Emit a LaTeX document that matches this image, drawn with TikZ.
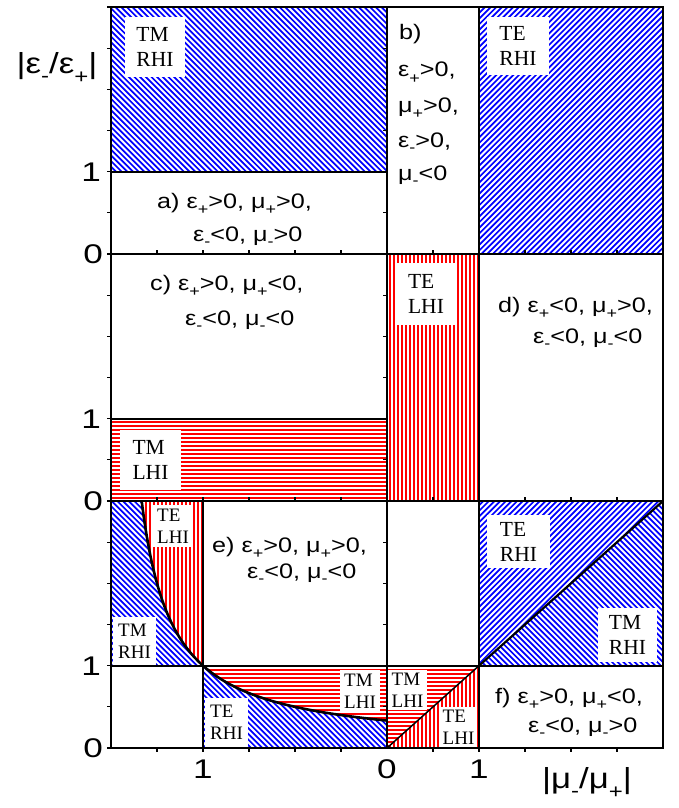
\documentclass[tikz,border=0pt]{standalone}
\usepackage{fontspec}
\setmainfont{Liberation Sans}
\newfontfamily\seriffont{Liberation Serif}
\newcommand\Sp{\raisebox{-0.32em}{\fontsize{15}{15}\selectfont +}}
\newcommand\Sm{\raisebox{-0.25em}{\fontsize{15}{15}\selectfont -}}
\newcommand\EPp{ε\Sp}
\newcommand\EPm{ε\Sm}
\newcommand\MUp{μ\Sp}
\newcommand\MUm{μ\Sm}
\newcommand\Wide[1]{\scalebox{1.2}[1]{#1}}
\newcommand\Dig[1]{\scalebox{1.3}[1]{#1}}
% hatching helpers: argument is a closed path
\newcommand\HatchNW[1]{\begin{scope}\clip #1;
  \foreach \i in {0,...,263}{\draw[blue,line width=1.7pt] ({-808+5.657*\i},0) -- ({5.657*\i},808);}
  \end{scope}}
\newcommand\HatchNE[1]{\begin{scope}\clip #1;
  \foreach \i in {0,...,263}{\draw[blue,line width=1.7pt] ({5.657*\i},0) -- ({5.657*\i-808},808);}
  \end{scope}}
\newcommand\HatchH[1]{\fill[red] #1;\begin{scope}\clip #1;
  \foreach \i in {0,...,202}{\draw[white,line width=1.3pt] (0,{4*\i}) -- (678,{4*\i});}
  \end{scope}}
\newcommand\HatchV[1]{\fill[red] #1;\begin{scope}\clip #1;
  \foreach \i in {0,...,170}{\draw[white,line width=1.3pt] ({4*\i},0) -- ({4*\i},808);}
  \end{scope}}
\tikzset{
  frame/.style={line width=2pt,black},
  tick/.style={line width=1.2pt,black},
  big/.style={fill=white,inner sep=0pt,align=left,font=\seriffont\fontsize{21.5}{25}\selectfont},
  small/.style={fill=white,inner sep=0pt,align=left,font=\seriffont\fontsize{19}{22}\selectfont},
  cond/.style={anchor=base west,inner sep=0pt,font=\fontsize{21}{25}\selectfont},
  num/.style={inner sep=0pt,font=\fontsize{27}{30}\selectfont},
  axlab/.style={inner sep=0pt,font=\fontsize{29}{32}\selectfont}
}
\begin{document}
\begin{tikzpicture}[x=1pt,y=-1pt]
\useasboundingbox (0,0) rectangle (678,808);
% ---------- top panel ----------
\HatchNW{(111,7) rectangle (387,171.7)}
\HatchNE{(479,7) rectangle (663,254)}
% ---------- middle panel ----------
\HatchH{(111,418.7) rectangle (387,501)}
\HatchV{(387,254) rectangle (479,501)}
% ---------- bottom panel ----------
\HatchNW{(111,501) -- (141.7,501) -- plot[variable=\t,domain=1.3333:1,samples=40] ({387-184*\t},{748-82.33/(3-2*\t)}) -- (111,665.7) -- cycle}
\HatchV{(141.7,501) -- (203,501) -- (203,665.7) -- plot[variable=\t,domain=1:1.3333,samples=40] ({387-184*\t},{748-82.33/(3-2*\t)}) -- cycle}
\HatchH{(203,665.7) -- (387,665.7) -- (387,720.6) -- plot[variable=\t,domain=0:1,samples=60] ({387-184*\t},{748-82.33/(3-2*\t)}) -- cycle}
\HatchNW{(203,665.7) -- plot[variable=\t,domain=1:0,samples=60] ({387-184*\t},{748-82.33/(3-2*\t)}) -- (387,748) -- (203,748) -- cycle}
\HatchNE{(479,501) -- (663,501) -- (479,665.7) -- cycle}
\HatchNW{(663,501) -- (663,665.7) -- (479,665.7) -- cycle}
\HatchH{(387,665.7) -- (479,665.7) -- (387,748) -- cycle}
\HatchV{(479,665.7) -- (479,748) -- (387,748) -- cycle}
% ---------- curve and diagonals ----------
\draw[line width=2.6pt] plot[variable=\t,domain=0:1.3333,samples=120] ({387-184*\t},{748-82.33/(3-2*\t)});
\coordinate (d1a) at (479,665.7); \coordinate (d1b) at (663,501);
\coordinate (d2a) at (387,748); \coordinate (d2b) at (479,665.7);
\draw[line width=2.2pt] (d1a) -- (d1b);
\draw[line width=1.5pt] (d2a) -- (d2b);
% ---------- frame lines ----------
\draw[frame] (111,7) rectangle (663,748);
\draw[frame] (111,254) -- (663,254);
\draw[frame] (111,501) -- (663,501);
\draw[frame] (111,171.7) -- (387,171.7);
\draw[frame] (111,418.7) -- (387,418.7);
\draw[frame] (111,665.7) -- (663,665.7);
\draw[frame] (387,7) -- (387,748);
\draw[frame] (479,7) -- (479,748);
\draw[frame] (203,501) -- (203,748);
% ---------- ticks ----------
\foreach \yb in {254,501,748}{
  \foreach \k in {0,...,6}{
    \draw[tick] (107,{\yb-41.17*\k}) -- (111,{\yb-41.17*\k});
  }
  \foreach \k in {1,...,5}{
    \draw[tick] (383,{\yb-41.17*\k}) -- (387,{\yb-41.17*\k});
  }
}
\foreach \xx in {157,203,249,295,341,433,479,525,571,617}{
  \draw[tick] (\xx,748) -- (\xx,752);
  \draw[tick] (\xx,501) -- (\xx,497);
  \draw[tick] (\xx,254) -- (\xx,250);
}
% ---------- hatch labels ----------
\node[big,minimum width=60pt,minimum height=60pt] (l1) at (155,47) {TM\\RHI};
\node[big,minimum width=62pt,minimum height=58pt] (l2) at (518,46) {TE\\RHI};
\node[big,minimum width=61pt,minimum height=60pt] (l3) at (150.5,460) {TM\\LHI};
\node[big,minimum width=62pt,minimum height=62pt] (l4) at (426,294) {TE\\LHI};
\node[small,minimum width=40pt,minimum height=42pt] (l5) at (173,526) {TE\\LHI};
\node[small,minimum width=43pt,minimum height=48pt] (l6) at (134.5,641) {TM\\RHI};
\node[small,minimum width=43pt,minimum height=49pt] (l7) at (226.5,722.5) {TE\\RHI};
\node[small,minimum width=40pt,minimum height=42pt] (l8) at (360,691) {TM\\LHI};
\node[big,minimum width=63pt,minimum height=53pt] (l9) at (518.5,541.5) {TE\\RHI};
\node[big,minimum width=59pt,minimum height=54pt] (l10) at (627.5,635) {TM\\RHI};
\node[small,minimum width=39pt,minimum height=40pt] (l11) at (407.5,690) {TM\\LHI};
\node[small,minimum width=37pt,minimum height=40pt] (l12) at (458.5,727) {TE\\LHI};
% ---------- condition labels ----------
\node[cond] (a1) at (157,208) {\Wide{a) \EPp>0, \MUp>0,}};
\node[cond] (a2) at (193,241) {\Wide{\EPm<0, \MUm>0}};
\node[cond] (b1) at (399,40) {\Wide{b)}};
\node[cond] (b2) at (398,77) {\Wide{\EPp>0,}};
\node[cond] (b3) at (398,112) {\Wide{\MUp>0,}};
\node[cond] (b4) at (398,147) {\Wide{\EPm>0,}};
\node[cond] (b5) at (398,180) {\Wide{\MUm<0}};
\node[cond] (c1) at (150,290) {\Wide{c) \EPp>0, \MUp<0,}};
\node[cond] (c2) at (185,325) {\Wide{\EPm<0, \MUm<0}};
\node[cond] (d1) at (498,312) {\Wide{d) \EPp<0, \MUp>0,}};
\node[cond] (d2) at (533,343) {\Wide{\EPm<0, \MUm<0}};
\node[cond] (e1) at (212,552) {\Wide{e) \EPp>0, \MUp>0,}};
\node[cond] (e2) at (247,578) {\Wide{\EPm<0, \MUm<0}};
\node[cond] (f1) at (495,703) {\Wide{f) \EPp>0, \MUp<0,}};
\node[cond] (f2) at (528,732) {\Wide{\EPm<0, \MUm>0}};
% ---------- axis numbers ----------
\node[num,anchor=east] (y1a) at (101,172) {\Dig{1}};
\node[num,anchor=east] (y0a) at (103,254) {\Dig{0}};
\node[num,anchor=east] (y1b) at (101,419) {\Dig{1}};
\node[num,anchor=east] (y0b) at (103,501) {\Dig{0}};
\node[num,anchor=east] (y1c) at (101,666) {\Dig{1}};
\node[num,anchor=east] (y0c) at (103,748) {\Dig{0}};
\node[num] (x1a) at (203,769) {\Dig{1}};
\node[num] (x0) at (387,769) {\Dig{0}};
\node[num] (x1b) at (479,769) {\Dig{1}};
% ---------- axis titles ----------
\node[axlab] (ylab) at (57,68) {\Wide{|ε\raisebox{-0.3em}{\fontsize{20}{20}\selectfont -}/ε\raisebox{-0.35em}{\fontsize{20}{20}\selectfont +}|}};
\node[axlab] (xlab) at (587,783) {\Wide{|μ\raisebox{-0.3em}{\fontsize{20}{20}\selectfont -}/μ\raisebox{-0.35em}{\fontsize{20}{20}\selectfont +}|}};
\end{tikzpicture}
\end{document}
